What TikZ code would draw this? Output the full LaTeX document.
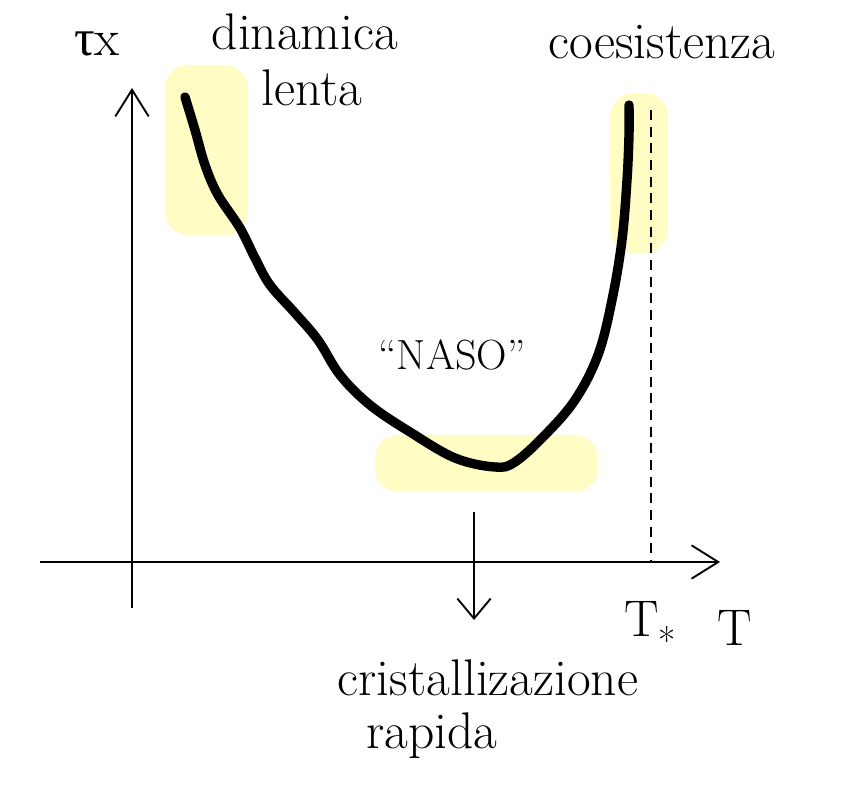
\documentclass[tikz,border=0pt]{standalone}
\usepackage{fontspec}
\newfontfamily\greekfont{Liberation Serif}
\usetikzlibrary{arrows.meta}
\definecolor{evid}{HTML}{FFFCC4}
\tikzset{
  hand/.style={font=\fontsize{44}{48}\selectfont, inner sep=0pt},
  axis/.style={line width=1.6pt, -{Straight Barb[length=8mm,width=10mm]}},
  curva/.style={line width=8pt, line cap=round, line join=round},
  evidbox/.style={fill=evid, rounded corners=7mm},
}
\begin{document}
\begin{tikzpicture}[x=0.3mm, y=-0.3mm]
  \useasboundingbox (0,0) rectangle (846,786);
  % evidenziatore
  \fill[evidbox] (165,65) rectangle (248,235);
  \fill[evidbox] (610,93) rectangle (668,253);
  \fill[evidbox] (375,435) rectangle (598,492);
  % assi
  \coordinate (yfoot) at (132,608);
  \coordinate (ytop) at (132,88);
  \coordinate (xfoot) at (40,562);
  \coordinate (xtip) at (720,562);
  \draw[axis] (yfoot) -- (ytop);
  \draw[axis] (xfoot) -- (xtip);
  \coordinate (tstartop) at (651,110);
  \coordinate (tstarfoot) at (651,562);
  \draw[line width=1.2pt, dash pattern=on 3mm off 2mm] (tstartop) -- (tstarfoot);
  % curva a naso
  \draw[curva] plot[smooth, tension=0.6] coordinates {(185,97) (195,130) (205,165)
    (218,195) (240,228) (255,258) (270,285) (295,313) (318,340) (340,375)
    (370,405) (410,432) (455,458) (495,467) (515,462) (545,435) (575,400)
    (598,355) (612,300) (622,240) (627,180) (629,135) (629,105)};
  \coordinate (nasofoot) at (474,512);
  \coordinate (nasotip) at (474,620);
  \draw[line width=1.6pt, -{Straight Barb[length=6mm,width=10mm]}] (nasofoot) -- (nasotip);
  % etichette
  \node[hand] (tau) at (97,44) {{\greekfont τ}x};
  \node[hand] (dinamica) at (305,32) {dinamica};
  \node[hand] (lenta) at (312,88) {lenta};
  \node[hand] (coes) at (662,42) {coesistenza};
  \node[font=\fontsize{36}{40}\selectfont] (naso) at (452,355) {``NASO''};
  \node[hand] (tstar) at (650,628) {T\raisebox{-0.35em}{\fontsize{32}{34}\selectfont *}};
  \node[hand] (temp) at (735,628) {T};
  \node[hand] (cristal) at (488,678) {cristallizazione};
  \node[hand] (rapida) at (432,736) {rapida};
\end{tikzpicture}
\end{document}
